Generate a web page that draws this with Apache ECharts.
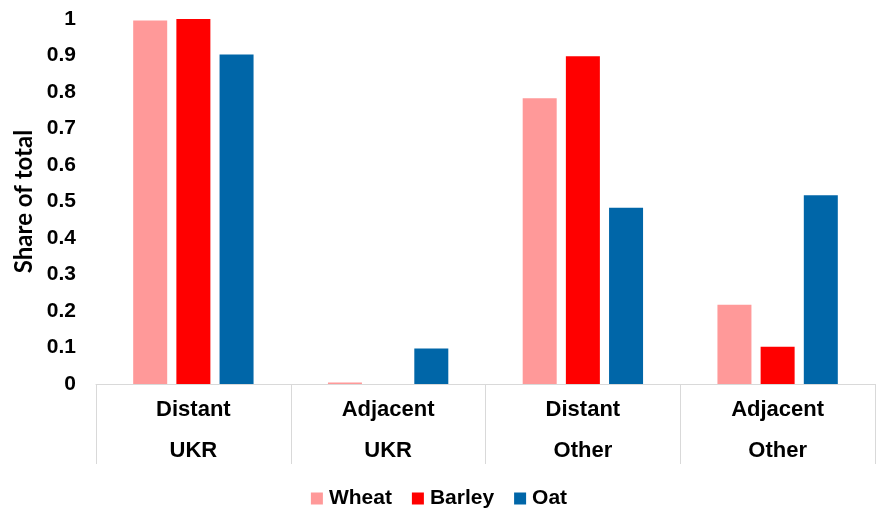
<!DOCTYPE html>
<html>
<head>
<meta charset="utf-8">
<script src="https://cdn.jsdelivr.net/npm/echarts@6/dist/echarts.min.js"></script>
<style>
  html, body { margin: 0; padding: 0; background: #fff; }
  #chart { width: 878px; height: 509px; }
</style>
</head>
<body>
<div id="chart"></div>
<script>
// Share of total by distance class and origin
const categories = ['Distant\nUKR', 'Adjacent\nUKR', 'Distant\nOther', 'Adjacent\nOther'];
const wheat  = [0.996, 0.004, 0.783, 0.217];
const barley = [1.0,   0.0,   0.898, 0.102];
const oat    = [0.903, 0.097, 0.483, 0.517];
const yTicks = [0, 0.1, 0.2, 0.3, 0.4, 0.5, 0.6, 0.7, 0.8, 0.9, 1];

const font = 'Liberation Sans, Arial, sans-serif';
const titleFont = 'Lato, Open Sans, sans-serif';
const chart = echarts.init(document.getElementById('chart'), null, { renderer: 'canvas' });

chart.setOption({
  animation: false,
  backgroundColor: '#ffffff',
  textStyle: { fontFamily: font },
  grid: { left: 96, right: 3, top: 19, bottom: 125, containLabel: false },
  legend: {
    top: 483,
    left: 'center',
    itemWidth: 12,
    itemHeight: 12,
    itemGap: 20,
    icon: 'rect',
    textStyle: { fontFamily: font, fontWeight: 'bold', fontSize: 21, color: '#000', padding: [0, 0, 0, 1] },
    data: ['Wheat', 'Barley', 'Oat']
  },
  xAxis: {
    type: 'category',
    data: categories,
    boundaryGap: true,
    axisLine: { show: true, lineStyle: { color: '#d9d9d9', width: 1 } },
    axisTick: { show: true, length: 80, alignWithLabel: false, lineStyle: { color: '#d9d9d9', width: 1 } },
    axisLabel: {
      margin: 5,
      fontFamily: font,
      fontWeight: 'bold',
      fontSize: 22,
      lineHeight: 41,
      color: '#000'
    },
    splitLine: { show: false }
  },
  yAxis: {
    type: 'value',
    min: yTicks[0],
    max: yTicks[yTicks.length - 1],
    interval: 0.1,
    name: 'Share of total',
    nameLocation: 'middle',
    nameGap: 60,
    nameRotate: 90,
    nameTextStyle: { fontFamily: titleFont, fontWeight: 'bold', fontSize: 24, color: '#000' },
    axisLine: { show: false },
    axisTick: { show: false },
    splitLine: { show: false },
    axisLabel: {
      margin: 20,
      fontFamily: font,
      fontWeight: 'bold',
      fontSize: 21,
      color: '#000',
      formatter: v => String(Math.round(v * 10) / 10)
    }
  },
  series: [
    { name: 'Wheat',  type: 'bar', data: wheat,  barWidth: 34, barGap: '27%', itemStyle: { color: '#FF9999' } },
    { name: 'Barley', type: 'bar', data: barley, barWidth: 34, barGap: '27%', itemStyle: { color: '#FF0000' } },
    { name: 'Oat',    type: 'bar', data: oat,    barWidth: 34, barGap: '27%', itemStyle: { color: '#0066A8' } }
  ]
});
</script>
</body>
</html>
